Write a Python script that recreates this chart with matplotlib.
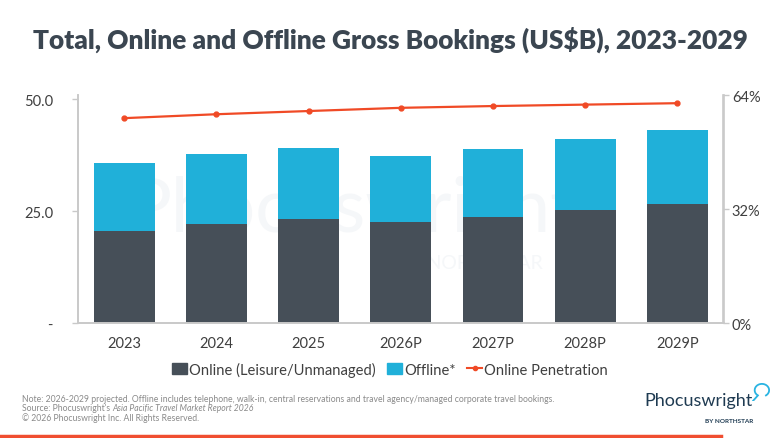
import matplotlib
matplotlib.use("Agg")
import matplotlib.pyplot as plt
from matplotlib.lines import Line2D
from matplotlib.patches import Patch, Arc
import numpy as np

# data
years = ['2023', '2024', '2025', '2026P', '2027P', '2028P', '2029P']
online = [20.6, 22.1, 23.3, 22.5, 23.6, 25.2, 26.6]
offline = [15.2, 15.7, 15.8, 14.9, 15.3, 16.0, 16.6]
penetration = [0.575, 0.586, 0.595, 0.604, 0.609, 0.613, 0.617]

c_dark = '#464f58'
c_blue = '#20b0d9'
c_red = '#f04a26'
c_title = '#3b4651'
c_tick = '#3f3f3f'
c_spine = '#c9c9c9'

plt.rcParams['font.family'] = ['Lato', 'DejaVu Sans']

W, H = 780, 439
fig = plt.figure(figsize=(W / 100, H / 100), dpi=100)

def fx(px):
    return px / W

def fy(py):
    return 1 - py / H

ax = fig.add_axes([fx(78), fy(324), fx(723.5) - fx(78), fy(96) - fy(324)])
ax.set_facecolor('none')

x = np.arange(len(years))
ax.bar(x, online, width=0.66, color=c_dark, zorder=2)
ax.bar(x, offline, width=0.66, bottom=online, color=c_blue, zorder=2)
ax.set_xlim(-0.5, 6.5)
ax.set_ylim(0, 51.0)
ax.set_yticks([0, 25, 50])
ax.set_yticklabels(['-', '25.0', '50.0'])
ax.set_xticks(x)
ax.set_xticklabels(years)

ax2 = ax.twinx()
ax2.plot(x, penetration, color=c_red, lw=1.6, marker='o', ms=3.5, zorder=3)
ax2.set_ylim(0, 0.64)
ax2.set_yticks([0, 0.32, 0.64])
ax2.set_yticklabels(['0%', '32%', '64%'])

for a in (ax, ax2):
    a.spines['top'].set_visible(False)
    for s in ('left', 'right', 'bottom'):
        a.spines[s].set_color(c_spine)
        a.spines[s].set_linewidth(1.2)
    a.tick_params(colors=c_spine, labelcolor=c_tick, labelsize=10.5, length=4, width=1)
ax.tick_params(axis='x', length=0, pad=9)
ax.tick_params(axis='y', pad=14)
ax2.tick_params(axis='y', pad=2)

# title, fitted to the reference width
title = fig.text(0.5, fy(40), 'Total, Online and Offline Gross Bookings (US$B), 2023-2029',
                 ha='center', va='center', fontsize=18, fontweight='heavy', color=c_title)
fig.canvas.draw()
r = fig.canvas.get_renderer()
tw = title.get_window_extent(r).width
title.set_fontsize(18 * 715 / tw)

# legend
handles = [Patch(color=c_dark), Patch(color=c_blue),
           Line2D([], [], color=c_red, lw=1.5, marker='o', ms=3)]
labels = ['Online (Leisure/Unmanaged)', 'Offline*', 'Online Penetration']
fig.legend(handles, labels, loc='center', bbox_to_anchor=(0.5, fy(370)), ncol=3,
           frameon=False, fontsize=10.6, handlelength=1.0, handleheight=0.8,
           handletextpad=0.15, columnspacing=0.8, labelcolor=c_tick)

# watermark
fig.text(fx(352), fy(212), 'Phocuswright', ha='center', va='center', fontsize=54,
         color='#f5f7f9', zorder=-1)
fig.text(fx(470), fy(264), 'BY NORTHSTAR', ha='center', va='center', fontsize=14,
         color='#f5f7f9', zorder=-1)

# footnote
fn = dict(fontsize=6.2, color='#8a8a8a', va='center', ha='left')
fig.text(fx(22), fy(399.5), 'Note: 2026-2029 projected. Offline includes telephone, walk-in, central '
         'reservations and travel agency/managed corporate travel bookings.', **fn)
src = fig.text(fx(22), fy(409), "Source: Phocuswright's ", **fn)
fig.canvas.draw()
sx = src.get_window_extent(r).x1
fig.text(sx / W, fy(409), 'Asia Pacific Travel Market Report 2026', style='italic', **fn)
fig.text(fx(22), fy(418.5), '\u00a9 2026 Phocuswright Inc. All Rights Reserved.', **fn)

# logo
fig.text(fx(698), fy(401), 'Phocuswright', ha='center', va='center', fontsize=13,
         color='#1f3b52')
fig.text(fx(753), fy(422), 'BY NORTHSTAR', ha='right', va='center', fontsize=4.6,
         fontweight='bold', color='#1f3b52')
bub = fig.add_axes([fx(752), fy(402), fx(18), fy(384) - fy(402)])
bub.set_xlim(0, 1)
bub.set_ylim(0, 1)
bub.axis('off')
bub.add_patch(Arc((0.55, 0.6), 0.8, 0.7, theta1=-60, theta2=230, color='#2ab4e2', lw=1.3))
bub.plot([0.33, 0.05], [0.31, 0.0], color='#2ab4e2', lw=1.3)

# bottom rule
fig.add_artist(Line2D([0, fx(721)], [fy(437), fy(437)], color='#f04e30', lw=2.5))

fig.savefig('out.png', dpi=100)
